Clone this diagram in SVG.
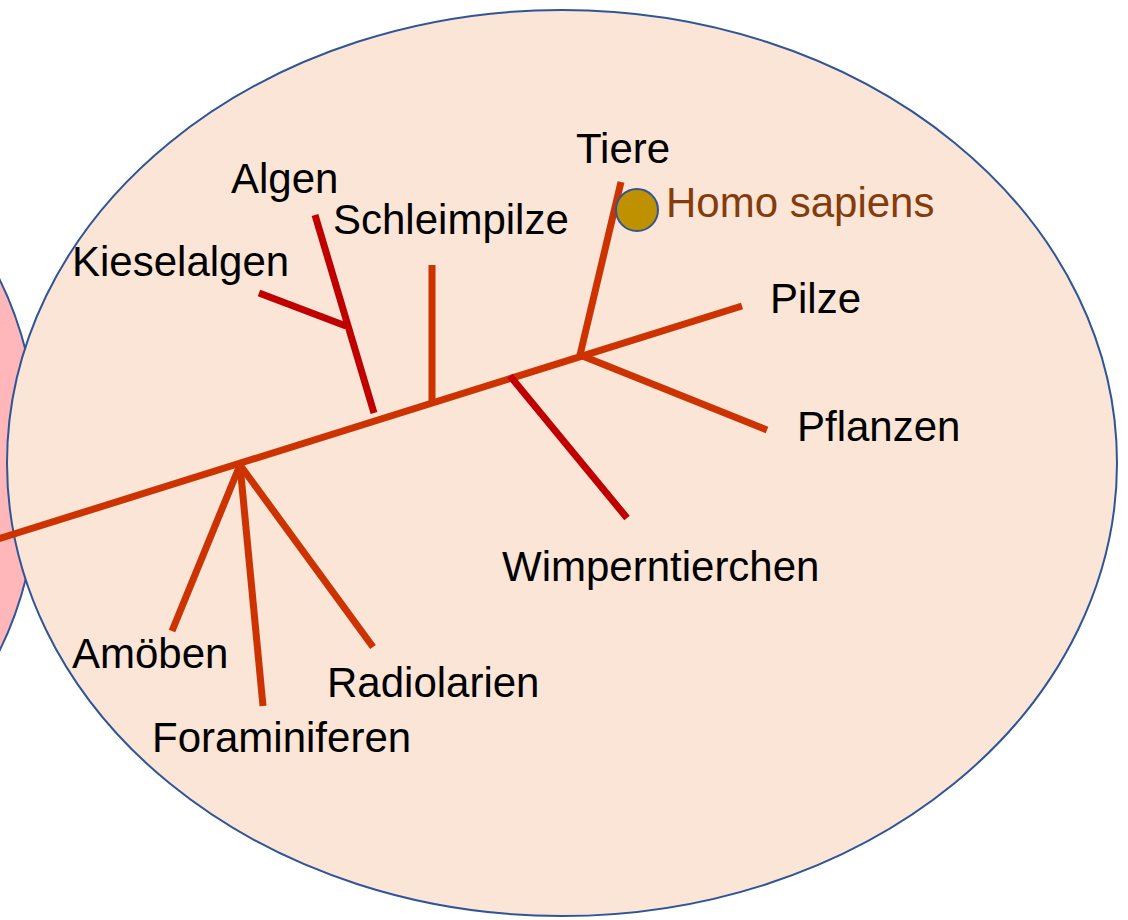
<svg xmlns="http://www.w3.org/2000/svg" width="1128" height="920" viewBox="0 0 1128 920">
<style>
.lbl{font-family:"Liberation Sans",Arial,sans-serif;font-size:42px;fill:#000}
.hs{font-family:"Liberation Sans",Arial,sans-serif;font-size:42px;fill:#843C0C}
.br{stroke:#CC3300;stroke-width:7;fill:none}
.dr{stroke:#C00000;stroke-width:7;fill:none}
</style>
<rect width="1128" height="920" fill="#fff"/>
<g id="pink"><ellipse cx="-150" cy="465" rx="190" ry="301" fill="#FFB7BA" stroke="#2F5597" stroke-width="2"/></g>
<g id="cell"><ellipse cx="562" cy="463" rx="555" ry="453" fill="#FBE5D6" stroke="#2F5597" stroke-width="2"/></g>
<g id="connectors">
<line class="br" x1="-2" y1="539" x2="742" y2="306"/>
<line class="br" x1="580" y1="355" x2="621" y2="182"/>
<line class="br" x1="580" y1="355" x2="767" y2="430"/>
<line class="dr" x1="510" y1="376" x2="627" y2="518"/>
<line class="br" x1="432" y1="405" x2="432" y2="265"/>
<line class="dr" x1="374" y1="413" x2="315" y2="215"/>
<line class="dr" x1="259" y1="293" x2="346" y2="326"/>
<line class="br" x1="240" y1="465" x2="172" y2="631"/>
<line class="br" x1="240" y1="465" x2="263" y2="706"/>
<line class="br" x1="240" y1="465" x2="373" y2="647"/>
</g>
<g id="homo"><circle cx="637" cy="210" r="21" fill="#BF9000" stroke="#2F5597" stroke-width="2"/><text class="hs" x="666" y="217">Homo sapiens</text></g>
<g id="tiere"><text class="lbl" x="576" y="163">Tiere</text></g>
<g id="pilze"><text class="lbl" x="770" y="313">Pilze</text></g>
<g id="pflanzen"><text class="lbl" x="797" y="441">Pflanzen</text></g>
<g id="wimper"><text class="lbl" x="502" y="581">Wimperntierchen</text></g>
<g id="radio"><text class="lbl" x="327" y="697">Radiolarien</text></g>
<g id="forami"><text class="lbl" x="152" y="752">Foraminiferen</text></g>
<g id="amoeben"><text class="lbl" x="72" y="668">Amöben</text></g>
<g id="kiesel"><text class="lbl" x="72" y="276">Kieselalgen</text></g>
<g id="algen"><text class="lbl" x="231" y="193">Algen</text></g>
<g id="schleim"><text class="lbl" x="333" y="234">Schleimpilze</text></g>
</svg>
